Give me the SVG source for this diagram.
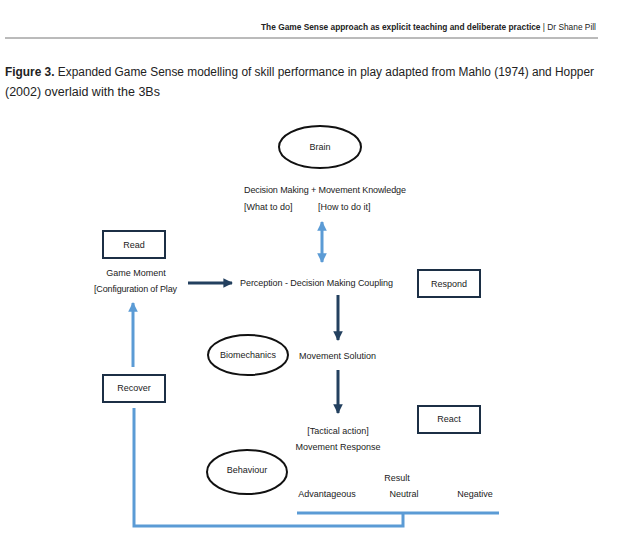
<svg xmlns="http://www.w3.org/2000/svg" width="640" height="545" viewBox="0 0 640 545">
<style>
text{font-family:"Liberation Sans",Arial,sans-serif;fill:#222}
.t{font-size:9px}
.c{text-anchor:middle}
.box{fill:#fff;stroke:#1c2f45;stroke-width:2}
.ell{fill:#fff;stroke:#111;stroke-width:2}
.lb{stroke:#5b9bd5;stroke-width:3;fill:none}
.db{stroke:#23405f;stroke-width:3;fill:none}
</style>
<defs>
<marker id="ah-d" viewBox="0 0 10 10" refX="9" refY="5" markerWidth="3.2" markerHeight="3.2" orient="auto"><path d="M0,0L10,5L0,10z" fill="#23405f"/></marker>
<marker id="ah-l" viewBox="0 0 10 10" refX="9" refY="5" markerWidth="3.2" markerHeight="3.2" orient="auto-start-reverse"><path d="M0,0L10,5L0,10z" fill="#5b9bd5"/></marker>
</defs>
<rect width="640" height="545" fill="#fff"/>
<g id="header">
<text x="261" y="30" font-size="8.5" textLength="335" lengthAdjust="spacingAndGlyphs"><tspan font-weight="bold">The Game Sense approach as explicit teaching and deliberate practice</tspan>  |  Dr Shane Pill</text>
<line x1="5" y1="38" x2="598" y2="38" stroke="#777" stroke-width="1"/>
<text x="5" y="76" font-size="12.5" textLength="589" lengthAdjust="spacingAndGlyphs"><tspan font-weight="bold">Figure 3.</tspan> Expanded Game Sense modelling of skill performance in play adapted from Mahlo (1974) and Hopper</text>
<text x="5" y="96" font-size="12.5">(2002) overlaid with the 3Bs</text>
</g>
<g id="connectors">
<line class="lb" x1="322" y1="222" x2="322" y2="262" marker-start="url(#ah-l)" marker-end="url(#ah-l)"/>
<line class="db" x1="188" y1="283" x2="232" y2="283" marker-end="url(#ah-d)"/>
<line class="db" x1="338" y1="295" x2="338" y2="340" marker-end="url(#ah-d)"/>
<line class="db" x1="338" y1="370" x2="338" y2="413" marker-end="url(#ah-d)"/>
<line class="lb" x1="133" y1="367" x2="133" y2="303" marker-end="url(#ah-l)"/>
<polyline class="lb" points="134,408 134,526 403,526 403,513"/>
<line class="lb" x1="297" y1="513" x2="499" y2="513"/>
</g>
<g id="brain"><ellipse class="ell" cx="320" cy="147" rx="41" ry="21"/><text class="t c" x="320" y="150">Brain</text></g>
<g id="knowledge">
<text class="t" x="244" y="193" textLength="162">Decision Making + Movement Knowledge</text>
<text class="t" x="244" y="210">[What to do]</text>
<text class="t" x="318" y="210">[How to do it]</text>
</g>
<g id="read"><rect class="box" x="103" y="231" width="62" height="27"/><text class="t c" x="134" y="248">Read</text></g>
<g id="game-moment">
<text class="t c" x="136" y="276">Game Moment</text>
<text class="t" x="94" y="292" textLength="83">[Configuration of Play</text>
</g>
<g id="perception"><text class="t" x="240" y="286" textLength="153">Perception - Decision Making Coupling</text></g>
<g id="respond"><rect class="box" x="418" y="270" width="62" height="27"/><text class="t c" x="449" y="287">Respond</text></g>
<g id="biomechanics"><ellipse class="ell" cx="248" cy="355" rx="40" ry="20"/><text class="t c" x="248" y="358">Biomechanics</text></g>
<g id="movement-solution"><text class="t" x="299" y="359">Movement Solution</text></g>
<g id="recover"><rect class="box" x="103" y="375" width="62" height="27"/><text class="t c" x="134" y="391">Recover</text></g>
<g id="react"><rect class="box" x="418" y="406" width="62" height="27"/><text class="t c" x="449" y="422">React</text></g>
<g id="movement-response">
<text class="t c" x="338" y="434">[Tactical action]</text>
<text class="t c" x="338" y="450">Movement Response</text>
</g>
<g id="behaviour"><ellipse class="ell" cx="247" cy="472" rx="40" ry="22"/><text class="t c" x="247" y="473">Behaviour</text></g>
<g id="result">
<text class="t c" x="397" y="481">Result</text>
<text class="t c" x="327" y="497">Advantageous</text>
<text class="t c" x="404" y="497">Neutral</text>
<text class="t c" x="475" y="497">Negative</text>
</g>
</svg>
